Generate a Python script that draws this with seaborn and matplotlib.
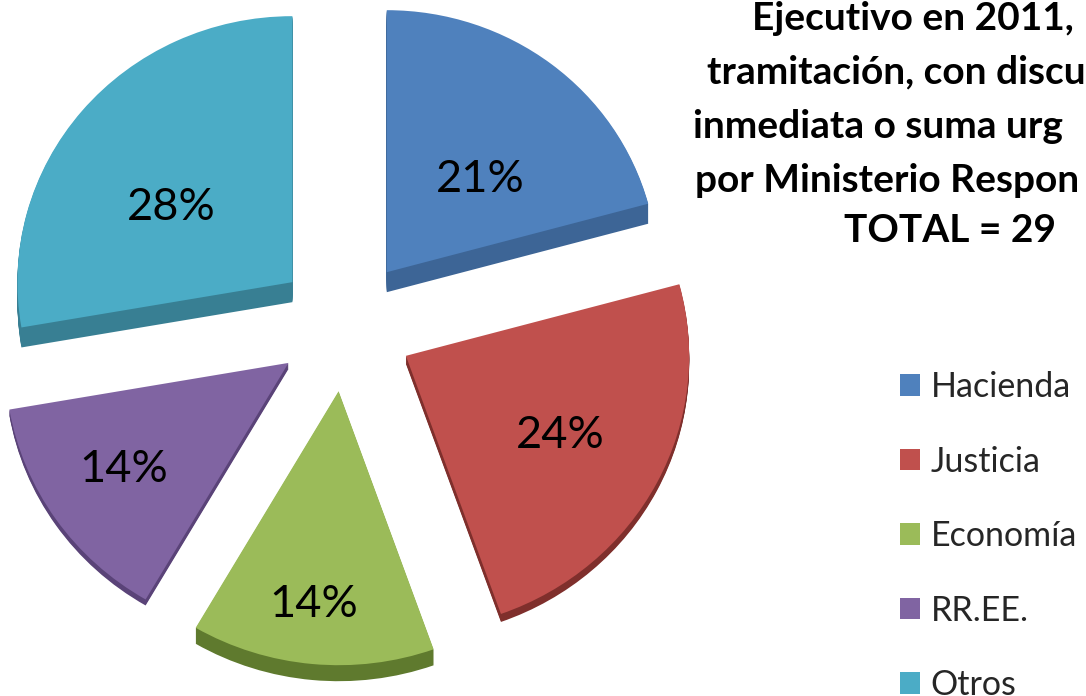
import matplotlib
matplotlib.use("Agg")
import matplotlib.pyplot as plt
import seaborn as sns

categories = ["Hacienda", "Justicia", "Economía", "RR.EE.", "Otros"]
values = [21, 24, 14, 14, 28]
percent_labels = ["21%", "24%", "14%", "14%", "28%"]
colors = ["#4F81BD", "#C0504D", "#9BBB59", "#8064A2", "#4BACC6"]
side_colors = ["#3D6596", "#7F2F2C", "#5F7A2E", "#5A4378", "#387F93"]
title_lines = ["Ejecutivo en 2011,", "tramitación, con discu", "inmediata o suma urg",
               "por Ministerio Respon", "TOTAL = 29"]
title_x_px = [752, 707, 693, 695, 844]
title_y_px = [18, 72, 126, 180, 231]

sns.set_theme(style="white")
plt.rcParams["font.family"] = ["Lato", "DejaVu Sans"]

W, H = 1086, 696
CX, CY, RX, RY = 345, 325, 275, 266
fig = plt.figure(figsize=(W / 100, H / 100), dpi=100, facecolor="white")
ax = fig.add_axes([0, 0, 1, 1])
explode = [0.25] * len(values)
side_depth_px = [20, 8, 16, 6, 20]
wedge_scale = [0.985, 1.03, 1.03, 1.03, 1.0]
label_offsets = [(0.34, 0.35), (0.56, -0.30), (-0.09, -0.80), (-0.60, -0.40), (-0.44, 0.28)]

for k in range(max(side_depth_px), 0, -1):
    layer, _ = ax.pie(values, colors=side_colors, explode=explode, startangle=90,
                      counterclock=False, center=(0, -k / RY),
                      wedgeprops=dict(linewidth=0), normalize=True)
    for w, d, r in zip(layer, side_depth_px, wedge_scale):
        w.set_visible(k <= d)
        w.set_radius(r)

wedges, _, autotexts = ax.pie(values, colors=colors, explode=explode, startangle=90,
                              counterclock=False, autopct="%1.0f%%",
                              wedgeprops=dict(linewidth=0),
                              textprops=dict(fontsize=32.5, color="black"), normalize=True)
for w, t, s, (dx, dy), r in zip(wedges, autotexts, percent_labels, label_offsets, wedge_scale):
    t.set_text(s)
    t.set_position((w.center[0] + dx, w.center[1] + dy))
    w.set_radius(r)

ax.set_aspect("auto")
ax.set_xlim(-CX / RX, (W - CX) / RX)
ax.set_ylim(-(H - CY) / RY, CY / RY)
ax.axis("off")

for s, x, y in zip(title_lines, title_x_px, title_y_px):
    fig.text(x / W, 1 - y / H, s, ha="left", va="center", fontsize=28,
             fontweight="bold", color="black")

fig.legend(wedges, categories, loc="upper left", bbox_to_anchor=(900 / W, 1 - 371 / H),
           frameon=False, fontsize=24.5, labelspacing=1.25, handlelength=0.6,
           handleheight=0.6, handletextpad=0.3, borderpad=0, borderaxespad=0)
fig.savefig("out.png", dpi=100)
